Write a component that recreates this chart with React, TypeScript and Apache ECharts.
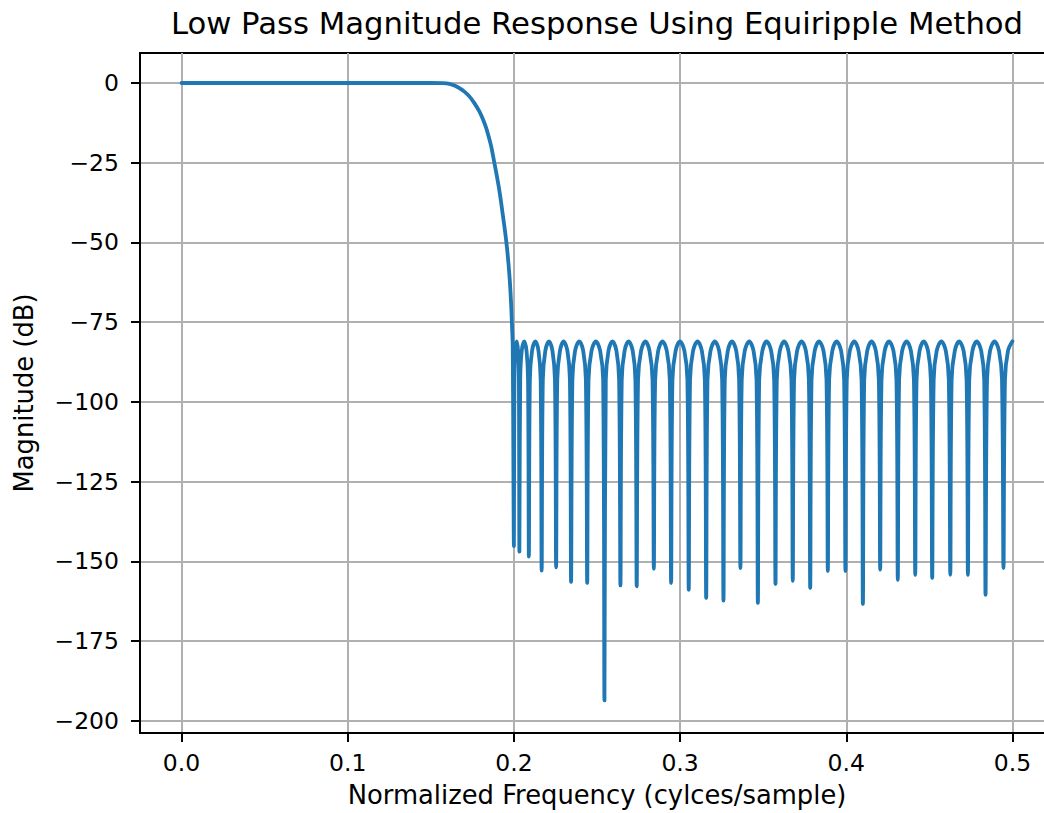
import React, { useEffect, useRef } from 'react';
import * as echarts from 'echarts';

const titleText = 'Low Pass Magnitude Response Using Equiripple Method';
const xName = 'Normalized Frequency (cylces/sample)';
const yName = 'Magnitude (dB)';

const xTicks = [0, 0.1, 0.2, 0.3, 0.4, 0.5];
const yTicks = [0, -25, -50, -75, -100, -125, -150, -175, -200];

// passband (flat)
const passband: number[][] = [
  [0, 0], [0.05, 0], [0.1, 0], [0.15, 0],
];

// roll-off from passband into the first stopband null
const transition: number[][] = [
  [0.157, -0.05], [0.1612, -0.25], [0.1642, -0.8], [0.1672, -1.6], [0.1702, -2.7],
  [0.1732, -4.2], [0.1762, -6.3], [0.1792, -8.9], [0.1813, -11.3], [0.1833, -14.1],
  [0.1848, -16.8], [0.1863, -19.8], [0.1883, -25.2], [0.1895, -28.5], [0.1907, -32],
  [0.1919, -36], [0.1931, -40.5], [0.1949, -47.5], [0.1958, -51.5], [0.1967, -56.5],
  [0.1976, -62.5], [0.1983, -69], [0.1988, -75.5], [0.1993, -83],
  [0.2, -145.2],
];

// stopband ripples: each row = one lobe ending in its null
const stopband: number[][] = [
  [0.2003, -93], [0.2008, -84], [0.2017, -81], [0.2025, -84], [0.203, -93], [0.2033, -146.9],
  [0.2038, -93], [0.2047, -84], [0.2062, -81], [0.2076, -84], [0.2085, -93], [0.209, -148.5],
  [0.2096, -93], [0.2109, -84], [0.2129, -81], [0.2148, -84], [0.2161, -93], [0.2167, -152.9],
  [0.2174, -93], [0.2189, -84], [0.2211, -81], [0.2232, -84], [0.2247, -93], [0.2254, -151.9],
  [0.2261, -93], [0.2277, -84], [0.2299, -81], [0.2322, -84], [0.2337, -93], [0.2344, -156.5],
  [0.2352, -93], [0.2368, -84], [0.2393, -81], [0.2417, -84], [0.2433, -93], [0.2441, -156.8],
  [0.2449, -93], [0.2467, -84], [0.2493, -81], [0.2519, -84], [0.2537, -93], [0.2545, -193.6],
  [0.2553, -93], [0.2569, -84], [0.2593, -81], [0.2617, -84], [0.2633, -93], [0.2641, -157.5],
  [0.2649, -93], [0.2666, -84], [0.269, -81], [0.2715, -84], [0.2731, -93], [0.2739, -157.8],
  [0.2747, -93], [0.2765, -84], [0.2791, -81], [0.2816, -84], [0.2834, -93], [0.2842, -152.3],
  [0.285, -93], [0.2868, -84], [0.2894, -81], [0.292, -84], [0.2938, -93], [0.2946, -156.8],
  [0.2954, -93], [0.2973, -84], [0.2999, -81], [0.3026, -84], [0.3044, -93], [0.3052, -158.9],
  [0.306, -93], [0.3078, -84], [0.3105, -81], [0.3131, -84], [0.3149, -93], [0.3157, -161.5],
  [0.3165, -93], [0.3183, -84], [0.3209, -81], [0.3235, -84], [0.3253, -93], [0.3261, -162.3],
  [0.3269, -93], [0.3287, -84], [0.3312, -81], [0.3338, -84], [0.3355, -93], [0.3363, -152.1],
  [0.3371, -93], [0.3389, -84], [0.3416, -81], [0.3442, -84], [0.346, -93], [0.3468, -163.1],
  [0.3476, -93], [0.3495, -84], [0.3521, -81], [0.3548, -84], [0.3566, -93], [0.3574, -157.1],
  [0.3582, -93], [0.36, -84], [0.3626, -81], [0.3652, -84], [0.367, -93], [0.3678, -156.1],
  [0.3686, -93], [0.3704, -84], [0.3731, -81], [0.3757, -84], [0.3775, -93], [0.3783, -158.4],
  [0.3791, -93], [0.381, -84], [0.3836, -81], [0.3863, -84], [0.3881, -93], [0.3889, -153.0],
  [0.3897, -93], [0.3916, -84], [0.3942, -81], [0.3969, -84], [0.3987, -93], [0.3995, -153.0],
  [0.4003, -93], [0.4021, -84], [0.4048, -81], [0.4074, -84], [0.4092, -93], [0.41, -163.4],
  [0.4108, -93], [0.4126, -84], [0.4152, -81], [0.4178, -84], [0.4196, -93], [0.4204, -152.6],
  [0.4212, -93], [0.4231, -84], [0.4257, -81], [0.4284, -84], [0.4302, -93], [0.431, -155.8],
  [0.4318, -93], [0.4336, -84], [0.4363, -81], [0.4389, -84], [0.4407, -93], [0.4415, -154.2],
  [0.4423, -93], [0.4441, -84], [0.4466, -81], [0.4492, -84], [0.4509, -93], [0.4517, -155.2],
  [0.4526, -93], [0.4544, -84], [0.4572, -81], [0.4599, -84], [0.4617, -93], [0.4626, -154.2],
  [0.4634, -93], [0.4653, -84], [0.4679, -81], [0.4706, -84], [0.4724, -93], [0.4732, -154.2],
  [0.474, -93], [0.4759, -84], [0.4785, -81], [0.4812, -84], [0.483, -93], [0.4838, -160.5],
  [0.4847, -93], [0.4865, -84], [0.4892, -81], [0.4919, -84], [0.4937, -93], [0.4946, -152.1],
  [0.4955, -93], [0.4973, -84], [0.5, -81],
];

const FONT = 'DejaVu Sans';

export default function App() {
  const ref = useRef<HTMLDivElement>(null);
  useEffect(() => {
    if (!ref.current) return;
    const chart = echarts.init(ref.current, null, { renderer: 'svg' });
    chart.setOption({
      animation: false,
      backgroundColor: '#ffffff',
      title: {
        text: titleText,
        left: 597,
        top: 8,
        textAlign: 'center',
        padding: 0,
        textStyle: { fontFamily: FONT, fontSize: 30.7, fontWeight: 'normal', color: '#000' },
      },
      grid: {
        left: 140,
        top: 53,
        width: 914,
        height: 681,
        show: true,
        borderColor: '#000',
        borderWidth: 2,
        backgroundColor: 'transparent',
        containLabel: false,
      },
      xAxis: {
        type: 'value',
        min: -0.025,
        max: 0.525,
        name: xName,
        nameLocation: 'middle',
        nameGap: 49,
        nameTextStyle: { fontFamily: FONT, fontSize: 25.8, color: '#000' },
        axisLine: { show: true, onZero: false, lineStyle: { color: '#000', width: 2 } },
        axisTick: { show: true, length: 9, customValues: xTicks, lineStyle: { color: '#000', width: 2 } },
        axisLabel: {
          customValues: xTicks,
          margin: 18,
          formatter: (v: number) => v.toFixed(1),
          fontFamily: FONT,
          fontSize: 23.5,
          color: '#000',
        },
        splitLine: { show: true, lineStyle: { color: '#b0b0b0', width: 2 } },
      },
      yAxis: {
        type: 'value',
        min: -203.8,
        max: 9.4,
        name: yName,
        nameLocation: 'middle',
        nameGap: 103,
        nameTextStyle: { fontFamily: FONT, fontSize: 25.8, color: '#000' },
        axisLine: { show: true, onZero: false, lineStyle: { color: '#000', width: 2 } },
        axisTick: { show: true, length: 9, customValues: yTicks, lineStyle: { color: '#000', width: 2 } },
        axisLabel: {
          customValues: yTicks,
          margin: 21,
          formatter: (v: number) => (v < 0 ? '\u2212' + String(-v) : String(v)),
          fontFamily: FONT,
          fontSize: 23.5,
          color: '#000',
        },
        splitLine: { show: true, lineStyle: { color: '#b0b0b0', width: 2 } },
      },
      series: [
        {
          type: 'line',
          data: [...passband, ...transition, ...stopband],
          showSymbol: false,
          symbol: 'none',
          clip: true,
          smooth: 0.35,
          lineStyle: { color: '#1f77b4', width: 3.8, join: 'round', cap: 'round' },
        },
      ],
    });
    return () => chart.dispose();
  }, []);
  return (
    <div style={{ position: 'absolute', left: 0, top: 0, width: 1044, height: 813, overflow: 'hidden', background: '#fff' }}>
      <div ref={ref} style={{ position: 'absolute', left: 0, top: 0, width: 1080, height: 813 }} />
    </div>
  );
}
